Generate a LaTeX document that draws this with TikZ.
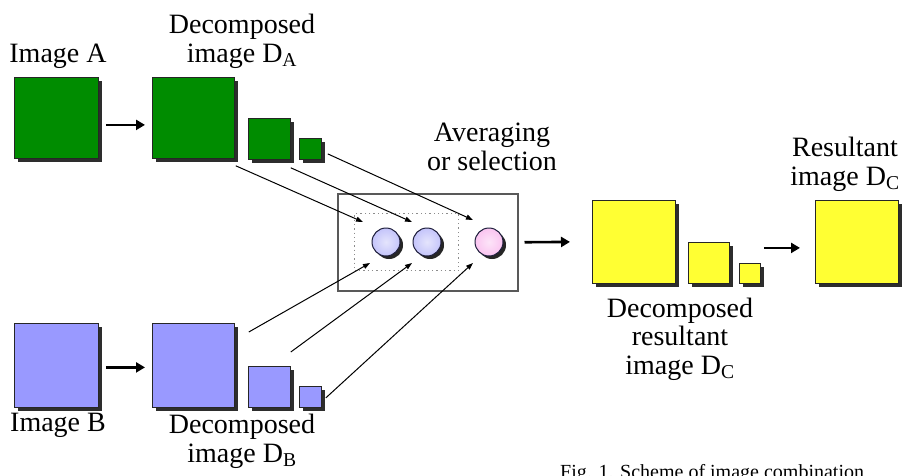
\documentclass[tikz,border=0pt]{standalone}
\usepackage{fontspec}
\setmainfont{Liberation Serif}
\usetikzlibrary{shadows,arrows.meta,calc}
\definecolor{gA}{RGB}{0,140,0}
\definecolor{bB}{RGB}{153,153,255}
\definecolor{yC}{RGB}{255,255,51}
\definecolor{shd}{RGB}{45,45,45}
\definecolor{clav}{RGB}{196,196,250}
\definecolor{cpink}{RGB}{250,196,240}
\definecolor{cedge}{RGB}{30,30,60}
\begin{document}
\begin{tikzpicture}[x=1pt,y=-1pt,
  imgbox/.style={draw=black!85, line width=0.8pt, inner sep=0pt, anchor=north west,
    drop shadow={shadow xshift=4pt, shadow yshift=-4pt, fill=shd, opacity=1}},
  circ/.style={circle, draw=cedge, line width=1pt, minimum size=28pt, inner sep=0pt,
    drop shadow={shadow xshift=3pt, shadow yshift=-3pt, fill=black!85, opacity=1}},
  bigarrow/.style={line width=2.6pt, -{Triangle[length=9pt,width=10pt]}},
  thinarrow/.style={line width=1pt, -{Triangle[length=7pt,width=5pt]}},
  lbl/.style={font=\fontsize{28}{28.5}\selectfont, align=center, inner sep=0pt, anchor=base},
  captext/.style={font=\fontsize{20}{22}\selectfont, inner sep=0pt, anchor=base west}]
\useasboundingbox (0,0) rectangle (903,475);
\begin{scope}
\clip (0,0) rectangle (903,475);
\fill[white] (0,0) rectangle (903,475);
% image A row
\node[imgbox, fill=gA, minimum width=84pt, minimum height=81pt] (A) at (14,77) {};
\node[imgbox, fill=gA, minimum width=82pt, minimum height=81pt] (DA1) at (152,77) {};
\node[imgbox, fill=gA, minimum width=42pt, minimum height=41pt] (DA2) at (248,118) {};
\node[imgbox, fill=gA, minimum width=22pt, minimum height=21pt] (DA3) at (299,138) {};
% image B row
\node[imgbox, fill=bB, minimum width=84pt, minimum height=84pt] (B) at (14,323) {};
\node[imgbox, fill=bB, minimum width=82pt, minimum height=84pt] (DB1) at (152,323) {};
\node[imgbox, fill=bB, minimum width=42pt, minimum height=41pt] (DB2) at (248,366) {};
\node[imgbox, fill=bB, minimum width=22pt, minimum height=21pt] (DB3) at (299,386) {};
% result row
\node[imgbox, fill=yC, minimum width=83pt, minimum height=83pt] (DC1) at (592,200) {};
\node[imgbox, fill=yC, minimum width=41pt, minimum height=41pt] (DC2) at (688,242) {};
\node[imgbox, fill=yC, minimum width=21pt, minimum height=20pt] (DC3) at (739,263) {};
\node[imgbox, fill=yC, minimum width=83pt, minimum height=83pt] (R) at (815,200) {};
% combining box
\node[draw=black!65, line width=1.5pt, minimum width=180pt, minimum height=97pt, inner sep=0pt, anchor=north west] (box) at (337,193) {};
\node[draw=black!45, line width=1.4pt, dash pattern=on 1.3pt off 3pt, minimum width=104pt, minimum height=57pt, inner sep=0pt, anchor=north west] (dbox) at (354,213) {};
\node[circ, inner color=white!55!clav, outer color=clav] (c1) at (386,242) {};
\node[circ, inner color=white!55!clav, outer color=clav] (c2) at (427,242) {};
\node[circ, inner color=white!55!cpink, outer color=cpink] (c3) at (489,242) {};
% arrow end points
\coordinate (t1) at (363,222);
\coordinate (t2) at (412,222);
\coordinate (t3) at (473,220);
\coordinate (b1) at (370,263);
\coordinate (b2) at (412,263);
\coordinate (b3) at (473,263);
\coordinate (sa1) at ($(DA1.south east)+(1,7)$);
\coordinate (sa2) at ($(DA2.south east)+(0,8)$);
\coordinate (sa3) at ($(DA3.east)+(6,5)$);
\coordinate (sb1) at ($(DB1.north east)+(14,9)$);
\coordinate (sb2) at ($(DB2.north east)+(0,-14)$);
\coordinate (sb3) at ($(DB3.east)+(4,1)$);
\draw[thinarrow] (sa1) -- (t1);
\draw[thinarrow] (sa2) -- (t2);
\draw[thinarrow] (sa3) -- (t3);
\draw[thinarrow] (sb1) -- (b1);
\draw[thinarrow] (sb2) -- (b2);
\draw[thinarrow] (sb3) -- (b3);
% big arrows
\draw[bigarrow] ($(A.east)+(7,7)$) -- ($(DA1.west)+(-7,7)$);
\draw[bigarrow] ($(B.east)+(7,2)$) -- ($(DB1.west)+(-7,2)$);
\draw[bigarrow] ($(box.east)+(6,0)$) -- ($(DC1.west)+(-22,0)$);
\draw[bigarrow] ($(DC3.east |- R.west)+(3,6)$) -- ($(R.west)+(-15,6)$);
% labels
\node[lbl] (lA) at (58,62) {Image A};
\node[lbl] (lDA) at (242,62) {Decomposed\\image D\textsubscript{A}};
\node[lbl] (lB) at (58,431) {Image B};
\node[lbl] (lDB) at (242,462) {Decomposed\\image D\textsubscript{B}};
\node[lbl] (lavg) at (492,170) {Averaging\\or selection};
\node[lbl] (lR) at (845,185) {Resultant\\image D\textsubscript{C}};
\node[lbl] (lDC) at (680,374) {Decomposed\\resultant\\image D\textsubscript{C}};
\node[captext] (capt) at (560,478) {Fig. 1. Scheme of image combination};
\end{scope}
\end{tikzpicture}
\end{document}
